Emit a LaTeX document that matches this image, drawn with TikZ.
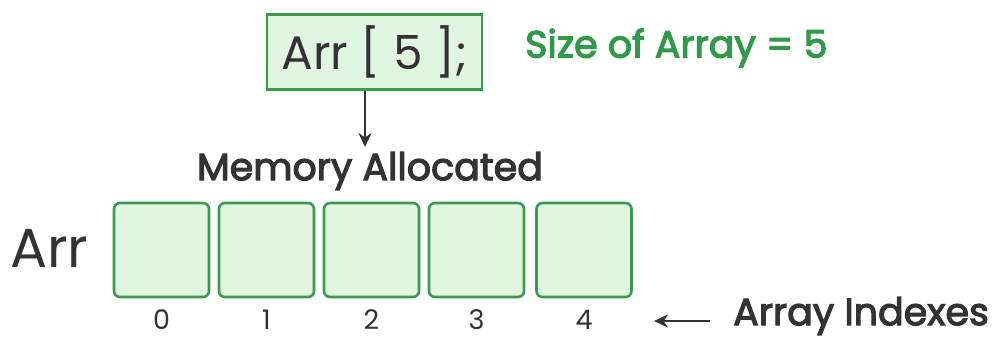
\documentclass[tikz,border=0pt]{standalone}
\usepackage{fontspec}
\setmainfont{Poppins}
\newfontfamily\medfont[FakeBold=3]{Poppins}
\usetikzlibrary{arrows.meta}
\definecolor{gborder}{HTML}{3A9A4E}
\definecolor{gfill}{HTML}{E1F6E1}
\definecolor{gtext}{HTML}{2F9A48}
\definecolor{dark}{HTML}{333333}
\tikzset{
  cell/.style={draw=gborder, fill=gfill, line width=2.6pt, rounded corners=6pt, minimum width=95pt, minimum height=94pt, inner sep=0pt},
  label/.style={text=dark, inner sep=0pt},
  arr/.style={draw=dark, line width=2.4pt, -{Stealth[length=14pt,width=13pt]}}
}
\begin{document}
\begin{tikzpicture}[x=1pt,y=-1pt]
\useasboundingbox (0,0) rectangle (1000,338);
\node[draw=gborder, fill=gfill, line width=2.6pt, minimum width=215pt, minimum height=75pt, inner sep=0pt, text=dark, font=\fontsize{47}{50}\selectfont] (decl) at (374.5,52) {Arr [ 5 ];};
\node[text=gtext, inner sep=0pt, font=\fontsize{38}{40}\selectfont\medfont, anchor=west] (size) at (525,48) {Size of Array = 5};
\node[label, font=\fontsize{38}{40}\selectfont\medfont] (mem) at (370,171) {Memory Allocated};
\draw[arr] (decl.south -| 365,0) -- (365,147) coordinate (memtop);
\foreach \i/\x in {0/161.5,1/266.5,2/371.5,3/476.5,4/584} {
  \node[cell] (c\i) at (\x,250) {};
  \node[label, font=\fontsize{27}{29}\selectfont] (n\i) at (\x,320) {\i};
}
\node[label, font=\fontsize{55}{58}\selectfont, anchor=west] (arrname) at (10,248) {Arr};
\node[label, font=\fontsize{38}{40}\selectfont\medfont, anchor=west] (idx) at (733,316) {Array Indexes};
\coordinate (ia) at (710,321);
\draw[arr] (ia) -- (654,321);
\end{tikzpicture}
\end{document}
